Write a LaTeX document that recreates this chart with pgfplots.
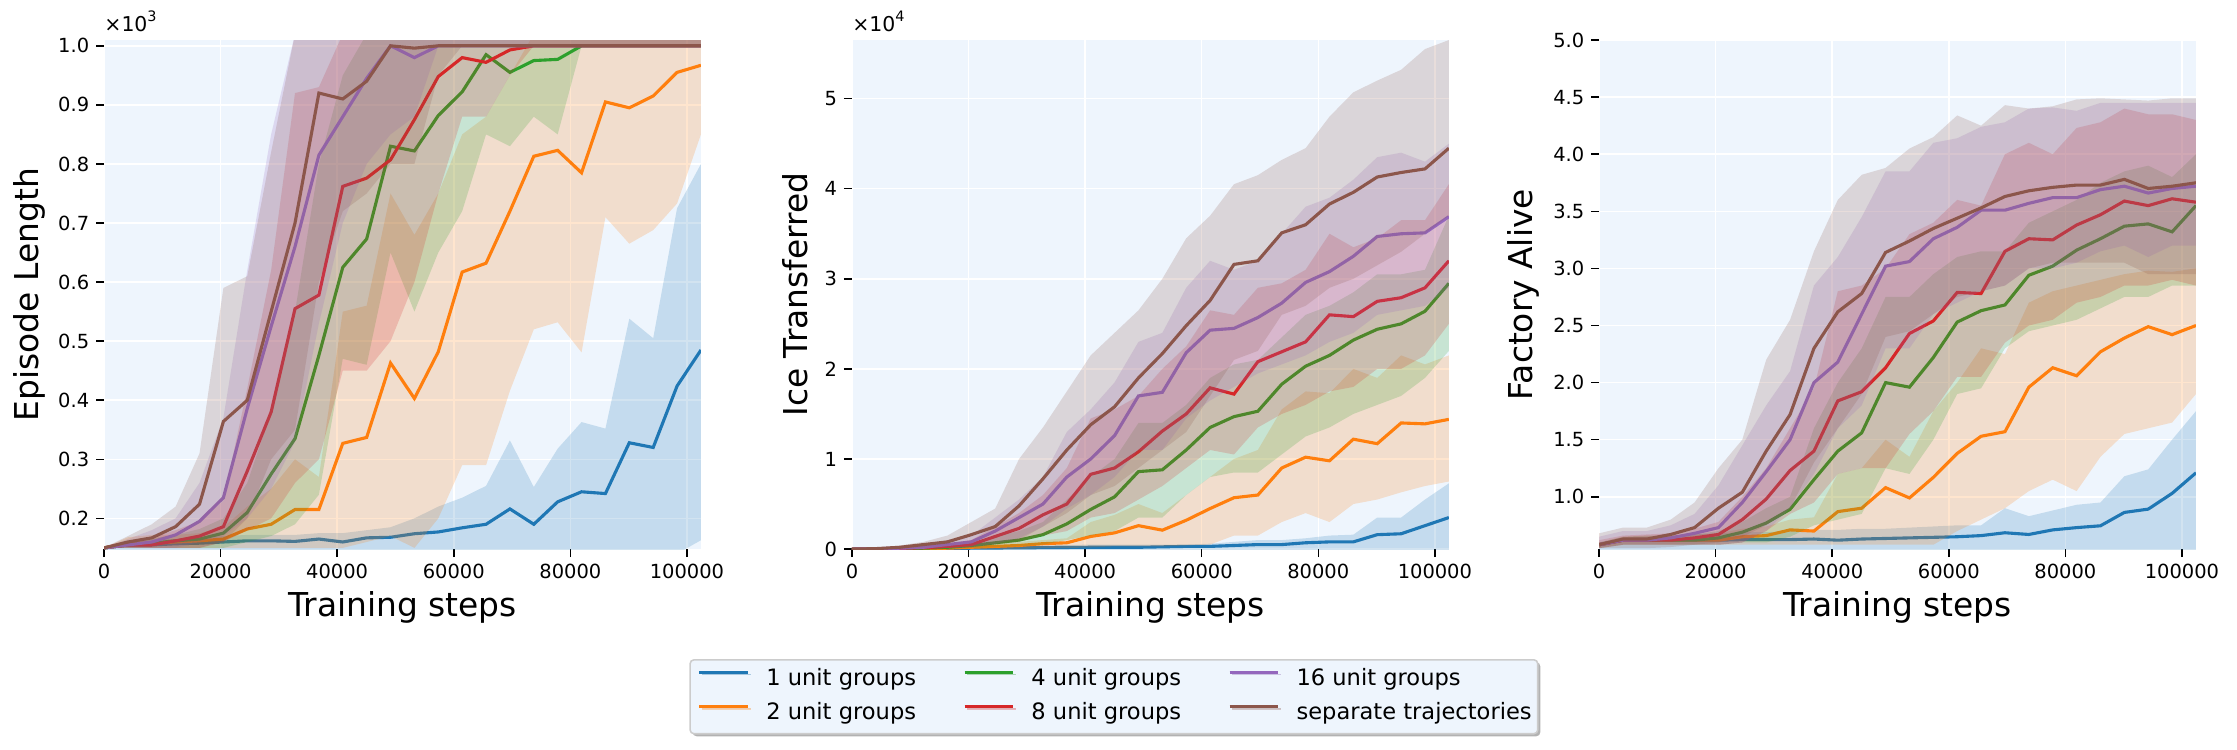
\documentclass[border=0pt]{standalone}
\usepackage{fontspec}
\setmainfont{DejaVu Sans}
\usepackage{pgfplots}
\usepackage{pgfplotstable}
\pgfplotsset{compat=1.18}
\usetikzlibrary{shadows}

\definecolor{cb}{HTML}{1F77B4}
\definecolor{co}{HTML}{FF7F0E}
\definecolor{cg}{HTML}{2CA02C}
\definecolor{cr}{HTML}{D62728}
\definecolor{cp}{HTML}{9467BD}
\definecolor{cs}{HTML}{8C564B}
\definecolor{bgblue}{HTML}{EEF5FD}
\definecolor{lgray}{HTML}{CCCCCC}

% ---------- Episode Length (x10^3): means ----------
\pgfplotstableread{
x b o g r p s
0 0.150 0.150 0.150 0.150 0.150 0.150
4096 0.155 0.158 0.155 0.155 0.155 0.160
8192 0.155 0.158 0.158 0.155 0.160 0.167
12288 0.157 0.160 0.162 0.162 0.172 0.186
16384 0.158 0.162 0.165 0.170 0.195 0.224
20480 0.160 0.165 0.175 0.186 0.235 0.364
24576 0.162 0.182 0.210 0.280 0.386 0.400
28672 0.162 0.190 0.275 0.380 0.525 0.550
32768 0.161 0.215 0.335 0.555 0.660 0.700
36864 0.165 0.215 0.476 0.578 0.815 0.920
40960 0.160 0.327 0.625 0.762 0.880 0.910
45056 0.167 0.337 0.673 0.776 0.945 0.940
49152 0.168 0.463 0.830 0.807 1.000 1.000
53248 0.174 0.403 0.822 0.875 0.980 0.996
57344 0.177 0.482 0.882 0.948 1.000 1.000
61440 0.184 0.617 0.922 0.980 1.000 1.000
65536 0.190 0.632 0.985 0.972 1.000 1.000
69632 0.216 0.720 0.955 0.993 1.000 1.000
73728 0.190 0.813 0.975 1.000 1.000 1.000
77824 0.228 0.823 0.977 1.000 1.000 1.000
81920 0.245 0.785 1.000 1.000 1.000 1.000
86016 0.242 0.905 1.000 1.000 1.000 1.000
90112 0.328 0.895 1.000 1.000 1.000 1.000
94208 0.320 0.915 1.000 1.000 1.000 1.000
98304 0.424 0.955 1.000 1.000 1.000 1.000
102400 0.485 0.967 1.000 1.000 1.000 1.000
}\mA
% bands: upper bound forward, then lower bound backward
\pgfplotstableread{
x b o g r p s
0 0.150 0.150 0.150 0.150 0.150 0.150
4096 0.160 0.168 0.162 0.160 0.165 0.170
8192 0.165 0.172 0.166 0.168 0.180 0.190
12288 0.165 0.172 0.172 0.180 0.200 0.220
16384 0.168 0.175 0.182 0.195 0.260 0.310
20480 0.170 0.185 0.200 0.230 0.370 0.590
24576 0.172 0.220 0.260 0.420 0.620 0.610
28672 0.172 0.250 0.380 0.620 0.850 0.820
32768 0.172 0.300 0.550 0.920 1.020 1.020
36864 0.175 0.270 0.800 0.930 1.020 1.020
40960 0.175 0.550 0.950 1.020 1.020 1.020
45056 0.180 0.560 1.020 1.020 1.020 1.020
49152 0.185 0.750 1.020 1.020 1.020 1.020
53248 0.200 0.680 1.020 1.020 1.020 1.020
57344 0.220 0.750 1.020 1.020 1.020 1.020
61440 0.235 0.850 1.020 1.020 1.020 1.020
65536 0.255 0.880 1.020 1.020 1.020 1.020
69632 0.332 0.950 1.020 1.020 1.020 1.020
73728 0.253 1.020 1.020 1.020 1.020 1.020
77824 0.318 1.020 1.020 1.020 1.020 1.020
81920 0.363 1.020 1.020 1.020 1.020 1.020
86016 0.352 1.020 1.020 1.020 1.020 1.020
90112 0.538 1.020 1.020 1.020 1.020 1.020
94208 0.505 1.020 1.020 1.020 1.020 1.020
98304 0.725 1.020 1.020 1.020 1.020 1.020
102400 0.800 1.020 1.020 1.020 1.020 1.020
102400 0.163 0.850 1.000 1.000 1.000 1.000
98304 0.140 0.733 1.000 1.000 1.000 1.000
94208 0.140 0.688 1.000 1.000 1.000 1.000
90112 0.140 0.665 1.000 1.000 1.000 1.000
86016 0.140 0.710 1.000 1.000 1.000 1.000
81920 0.140 0.481 1.000 1.000 1.000 1.000
77824 0.140 0.532 0.850 1.000 1.000 1.000
73728 0.140 0.520 0.880 1.000 1.000 1.000
69632 0.140 0.416 0.830 0.950 1.000 1.000
65536 0.140 0.290 0.850 0.880 1.000 1.000
61440 0.140 0.290 0.720 0.880 1.000 1.000
57344 0.140 0.200 0.650 0.750 1.000 0.950
53248 0.140 0.150 0.550 0.600 0.880 0.800
49152 0.140 0.170 0.650 0.500 0.850 0.800
45056 0.140 0.160 0.460 0.450 0.800 0.750
40960 0.140 0.150 0.470 0.450 0.700 0.720
36864 0.140 0.150 0.240 0.300 0.530 0.600
32768 0.140 0.150 0.190 0.260 0.330 0.350
28672 0.140 0.150 0.170 0.200 0.250 0.300
24576 0.140 0.150 0.160 0.180 0.200 0.200
20480 0.140 0.150 0.150 0.160 0.170 0.160
16384 0.140 0.150 0.150 0.150 0.160 0.150
12288 0.140 0.150 0.150 0.150 0.150 0.150
8192 0.140 0.150 0.150 0.150 0.150 0.150
4096 0.140 0.150 0.150 0.150 0.150 0.150
0 0.140 0.150 0.150 0.150 0.150 0.150
}\bA

% ---------- Ice Transferred (x10^4) ----------
\pgfplotstableread{
x b o g r p s
0 0 0 0 0 0 0
4096 0.002 0.003 0.003 0.003 0.004 0.005
8192 0.004 0.006 0.006 0.008 0.010 0.020
12288 0.006 0.008 0.010 0.015 0.020 0.050
16384 0.008 0.010 0.020 0.030 0.050 0.080
20480 0.010 0.020 0.040 0.050 0.080 0.160
24576 0.012 0.030 0.070 0.140 0.200 0.250
28672 0.014 0.040 0.100 0.230 0.350 0.480
32768 0.016 0.060 0.160 0.380 0.500 0.780
36864 0.018 0.070 0.280 0.500 0.800 1.100
40960 0.020 0.140 0.440 0.830 1.000 1.380
45056 0.020 0.180 0.580 0.900 1.260 1.580
49152 0.020 0.260 0.860 1.080 1.700 1.900
53248 0.025 0.210 0.880 1.310 1.740 2.170
57344 0.030 0.320 1.100 1.500 2.180 2.480
61440 0.030 0.450 1.350 1.790 2.430 2.760
65536 0.040 0.570 1.470 1.720 2.450 3.160
69632 0.050 0.600 1.530 2.080 2.570 3.200
73728 0.050 0.900 1.830 2.190 2.730 3.510
77824 0.070 1.020 2.030 2.300 2.960 3.600
81920 0.080 0.980 2.150 2.600 3.080 3.830
86016 0.080 1.220 2.320 2.580 3.250 3.960
90112 0.160 1.170 2.440 2.750 3.470 4.130
94208 0.170 1.400 2.500 2.790 3.500 4.180
98304 0.260 1.390 2.640 2.900 3.510 4.220
102400 0.350 1.440 2.950 3.200 3.690 4.450
}\mB
\pgfplotstableread{
x b o g r p s
0 0 0 0 0 0 0
4096 0.005 0.006 0.006 0.006 0.008 0.010
8192 0.010 0.012 0.012 0.015 0.020 0.040
12288 0.015 0.016 0.020 0.030 0.040 0.080
16384 0.020 0.020 0.040 0.060 0.100 0.150
20480 0.025 0.040 0.080 0.100 0.150 0.300
24576 0.030 0.060 0.140 0.250 0.350 0.450
28672 0.035 0.080 0.200 0.400 0.550 1.000
32768 0.040 0.100 0.300 0.600 0.800 1.350
36864 0.045 0.120 0.550 0.900 1.300 1.750
40960 0.050 0.300 0.800 1.450 1.550 2.150
45056 0.050 0.380 1.000 1.550 1.850 2.400
49152 0.050 0.500 1.400 1.700 2.300 2.650
53248 0.050 0.400 1.400 2.000 2.400 3.000
57344 0.050 0.600 1.600 2.250 2.900 3.450
61440 0.060 0.800 1.900 2.650 3.200 3.700
65536 0.080 1.000 2.050 2.600 3.100 4.050
69632 0.100 1.100 2.100 2.900 3.200 4.150
73728 0.100 1.550 2.350 2.950 3.500 4.320
77824 0.120 1.750 2.600 3.100 3.800 4.450
81920 0.150 1.730 2.700 3.500 3.900 4.800
86016 0.160 2.000 2.850 3.350 4.100 5.070
90112 0.350 1.900 3.050 3.450 4.350 5.200
94208 0.350 2.150 3.050 3.650 4.400 5.320
98304 0.550 2.050 3.100 3.650 4.300 5.550
102400 0.730 2.150 3.700 4.050 4.500 5.650
102400 -0.05 0.750 2.200 2.500 2.900 3.700
98304 -0.05 0.700 1.900 2.150 2.700 3.500
94208 -0.05 0.630 1.700 2.000 2.650 3.300
90112 -0.05 0.550 1.600 2.000 2.600 3.150
86016 -0.05 0.500 1.500 1.800 2.400 3.000
81920 -0.05 0.300 1.350 1.750 2.300 2.900
77824 -0.05 0.400 1.250 1.600 2.150 2.700
73728 -0.05 0.300 1.050 1.500 2.050 2.600
69632 -0.05 0.150 0.850 1.350 1.950 2.200
65536 -0.05 0.150 0.850 1.050 1.800 2.100
61440 -0.05 0.050 0.800 1.100 1.650 1.700
57344 -0.05 0.040 0.600 0.900 1.450 1.300
53248 -0.05 0.030 0.350 0.700 1.100 1.100
49152 -0.05 0.030 0.350 0.550 1.100 0.900
45056 -0.05 0.030 0.200 0.400 0.800 0.700
40960 -0.05 0.020 0.150 0.350 0.600 0.600
36864 -0.05 0.010 0.100 0.200 0.450 0.400
32768 -0.05 0.010 0.050 0.150 0.250 0.250
28672 -0.05 0 0.030 0.080 0.120 0.100
24576 -0.05 0 0.020 0.050 0.060 0.060
20480 -0.05 0 0.010 0.020 0.020 0.030
16384 -0.05 0 0.005 0.010 0.010 0.020
12288 -0.05 0 0 0.005 0.005 0.010
8192 -0.05 0 0 0 0 0
4096 -0.05 0 0 0 0 0
0 -0.05 0 0 0 0 0
}\bB

% ---------- Factory Alive ----------
\pgfplotstableread{
x b o g r p s
0 0.58 0.58 0.58 0.58 0.58 0.58
4096 0.62 0.62 0.62 0.62 0.62 0.63
8192 0.62 0.62 0.62 0.62 0.62 0.63
12288 0.62 0.62 0.62 0.62 0.64 0.67
16384 0.62 0.62 0.62 0.64 0.68 0.73
20480 0.62 0.62 0.64 0.67 0.73 0.90
24576 0.625 0.65 0.69 0.80 0.95 1.04
28672 0.625 0.66 0.77 0.98 1.22 1.40
32768 0.625 0.71 0.89 1.23 1.50 1.72
36864 0.63 0.70 1.15 1.40 2.00 2.30
40960 0.62 0.87 1.40 1.84 2.18 2.62
45056 0.63 0.90 1.56 1.92 2.60 2.78
49152 0.635 1.08 2.00 2.13 3.02 3.14
53248 0.64 0.99 1.96 2.43 3.06 3.24
57344 0.645 1.17 2.22 2.54 3.26 3.35
61440 0.65 1.38 2.53 2.79 3.36 3.44
65536 0.66 1.53 2.63 2.78 3.51 3.53
69632 0.685 1.57 2.68 3.15 3.51 3.63
73728 0.67 1.96 2.94 3.26 3.57 3.68
77824 0.71 2.13 3.02 3.25 3.62 3.71
81920 0.73 2.06 3.16 3.38 3.62 3.73
86016 0.746 2.27 3.26 3.47 3.69 3.73
90112 0.863 2.39 3.37 3.59 3.72 3.78
94208 0.892 2.49 3.39 3.55 3.66 3.70
98304 1.03 2.42 3.32 3.61 3.70 3.72
102400 1.21 2.50 3.55 3.58 3.72 3.75
}\mC
\pgfplotstableread{
x b o g r p s
0 0.60 0.60 0.60 0.62 0.65 0.68
4096 0.64 0.65 0.65 0.66 0.70 0.73
8192 0.65 0.66 0.66 0.67 0.70 0.73
12288 0.66 0.66 0.66 0.68 0.75 0.80
16384 0.67 0.67 0.67 0.72 0.85 0.95
20480 0.68 0.68 0.70 0.78 1.10 1.25
24576 0.69 0.72 0.78 1.00 1.45 1.50
28672 0.69 0.74 0.90 1.25 1.80 2.20
32768 0.70 0.80 1.00 1.60 2.10 2.55
36864 0.71 0.82 1.60 1.95 2.85 3.15
40960 0.71 1.20 2.00 2.80 3.10 3.60
45056 0.72 1.25 2.30 2.85 3.45 3.82
49152 0.72 1.50 2.75 3.00 3.85 3.88
53248 0.73 1.35 2.75 3.30 3.85 4.05
57344 0.74 1.75 2.95 3.40 4.10 4.15
61440 0.75 2.00 3.10 3.60 4.14 4.34
65536 0.75 2.30 3.15 3.55 4.24 4.25
69632 0.90 2.25 3.15 4.00 4.28 4.43
73728 0.83 2.70 3.40 4.10 4.40 4.40
77824 0.88 2.80 3.50 4.00 4.41 4.42
81920 0.93 2.85 3.60 4.23 4.38 4.48
86016 0.95 2.90 3.75 4.28 4.45 4.49
90112 1.18 2.95 3.85 4.40 4.45 4.48
94208 1.24 2.98 3.90 4.35 4.45 4.47
98304 1.50 2.97 3.80 4.35 4.45 4.49
102400 1.75 3.00 4.00 4.30 4.45 4.49
102400 0.50 1.90 2.85 2.85 3.20 2.95
98304 0.50 1.65 2.85 2.90 3.20 2.95
94208 0.50 1.60 2.75 2.85 3.10 2.95
90112 0.50 1.55 2.75 2.85 3.20 3.05
86016 0.50 1.35 2.65 2.75 3.15 3.05
81920 0.50 1.05 2.55 2.70 3.05 3.05
77824 0.50 1.15 2.50 2.55 3.00 3.05
73728 0.50 1.05 2.45 2.50 3.00 3.00
69632 0.50 0.90 2.30 2.35 2.85 2.85
65536 0.50 0.80 1.95 2.05 2.80 2.80
61440 0.50 0.70 1.90 2.05 2.70 2.75
57344 0.50 0.58 1.50 1.75 2.60 2.60
53248 0.50 0.58 1.20 1.55 2.30 2.45
49152 0.50 0.58 1.25 1.25 2.30 2.40
45056 0.50 0.58 0.85 1.25 1.80 1.90
40960 0.50 0.58 0.80 1.20 1.60 1.60
36864 0.50 0.58 0.75 0.95 1.20 1.30
32768 0.50 0.58 0.65 0.85 0.90 0.90
28672 0.50 0.58 0.60 0.70 0.70 0.75
24576 0.50 0.58 0.60 0.60 0.60 0.65
20480 0.50 0.58 0.58 0.58 0.58 0.60
16384 0.50 0.58 0.58 0.58 0.58 0.58
12288 0.50 0.58 0.58 0.58 0.58 0.56
8192 0.50 0.58 0.58 0.58 0.58 0.55
4096 0.50 0.58 0.58 0.58 0.58 0.55
0 0.50 0.55 0.55 0.55 0.55 0.55
}\bC

% band polygon then mean line, per series
\newcommand{\series}[4]{%
  \addplot[fill=#4, fill opacity=0.2, draw=none, forget plot] table[x=x,y=#3]{#2};
  \addplot[#4, line width=1.6pt, forget plot] table[x=x,y=#3]{#1};
}
\newcommand{\allseries}[2]{%
  \series{#1}{#2}{b}{cb}
  \series{#1}{#2}{o}{co}
  \series{#1}{#2}{g}{cg}
  \series{#1}{#2}{r}{cr}
  \series{#1}{#2}{p}{cp}
  \series{#1}{#2}{s}{cs}
}

\pgfplotsset{panel/.style={
  width=306.9pt, height=261.7pt, scale only axis, anchor=south west,
  xmin=0, xmax=102400,
  axis background/.style={fill=bgblue},
  grid=major, major grid style={white, line width=0.8pt},
  axis line style={draw=none},
  xtick pos=left, ytick pos=left,
  tick align=outside, major tick length=4.1pt,
  major tick style={black, line width=0.8pt},
  xtick={0,20000,40000,60000,80000,100000},
  scaled x ticks=false, scaled y ticks=false,
  tick label style={font=\fontsize{10}{12}\selectfont},
  xticklabel style={/pgf/number format/.cd, fixed, set thousands separator={}, assume math mode=true},
  label style={font=\fontsize{16.9}{20}\selectfont},
  xlabel={Training steps},
  xlabel style={at={(axis description cs:0.5,-0.133)}, anchor=base},
}}

\begin{document}
\begin{tikzpicture}
\useasboundingbox (0,0) rectangle (1150.1pt,385.1pt);

\begin{axis}[panel, name=ax1, at={(53.47pt,102.8pt)},
  ymin=0.148, ymax=1.0097,
  ytick={0.2,0.3,0.4,0.5,0.6,0.7,0.8,0.9,1.0},
  yticklabel style={/pgf/number format/.cd, fixed, fixed zerofill, precision=1, assume math mode=true},
  ylabel={Episode Length},
  ylabel style={at={(axis description cs:-0.1256,0.5)}, anchor=center}]
\allseries{\mA}{\bA}
\end{axis}
\node[anchor=base west, inner sep=0pt, font=\fontsize{10.5}{12}\selectfont, yshift=4.6pt] at (ax1.north west) {×10\raisebox{0.85ex}{\fontsize{7.4}{8}\selectfont 3}};

\begin{axis}[panel, name=ax2, at={(438.0pt,102.8pt)},
  ymin=0, ymax=5.65,
  ytick={0,1,2,3,4,5},
  yticklabel style={/pgf/number format/.cd, fixed, assume math mode=true},
  ylabel={Ice Transferred},
  ylabel style={at={(axis description cs:-0.0955,0.5)}, anchor=center},
  legend columns=3, legend cell align=left,
  legend image code/.code={\draw[#1, line width=1.6pt] (0pt,3.9pt) -- (25pt,3.9pt);},
  legend style={at={(0.4389,-0.216)}, anchor=north,
    font=\fontsize{11.6}{13}\selectfont,
    draw=lgray, fill=bgblue, line width=0.8pt, rounded corners=2pt,
    inner xsep=4pt, inner ysep=4.7pt, row sep=6.4pt, column sep=0pt,
    /tikz/every odd column/.append style={column sep=8.6pt},
    nodes={inner sep=0pt, text height=8.5pt, text depth=2.6pt},
    drop shadow={shadow xshift=1.3pt, shadow yshift=-1.3pt, fill=black, opacity=0.3}}]
\allseries{\mB}{\bB}
\addlegendimage{cb}\addlegendentry{\makebox[101.1pt][l]{1 unit groups}}
\addlegendimage{cg}\addlegendentry{\makebox[101.1pt][l]{4 unit groups}}
\addlegendimage{cp}\addlegendentry{\makebox[120pt][l]{16 unit groups}}
\addlegendimage{co}\addlegendentry{\makebox[101.1pt][l]{2 unit groups}}
\addlegendimage{cr}\addlegendentry{\makebox[101.1pt][l]{8 unit groups}}
\addlegendimage{cs}\addlegendentry{\makebox[120pt][l]{separate trajectories}}
\end{axis}
\node[anchor=base west, inner sep=0pt, font=\fontsize{10.5}{12}\selectfont, yshift=4.6pt] at (ax2.north west) {×10\raisebox{0.85ex}{\fontsize{7.4}{8}\selectfont 4}};

\begin{axis}[panel, name=ax3, at={(822.1pt,102.8pt)},
  ymin=0.542, ymax=5.0,
  ytick={1,1.5,2,2.5,3,3.5,4,4.5,5},
  yticklabel style={/pgf/number format/.cd, fixed, fixed zerofill, precision=1, assume math mode=true},
  ylabel={Factory Alive},
  ylabel style={at={(axis description cs:-0.127,0.5)}, anchor=center}]
\allseries{\mC}{\bC}
\end{axis}
\end{tikzpicture}
\end{document}
